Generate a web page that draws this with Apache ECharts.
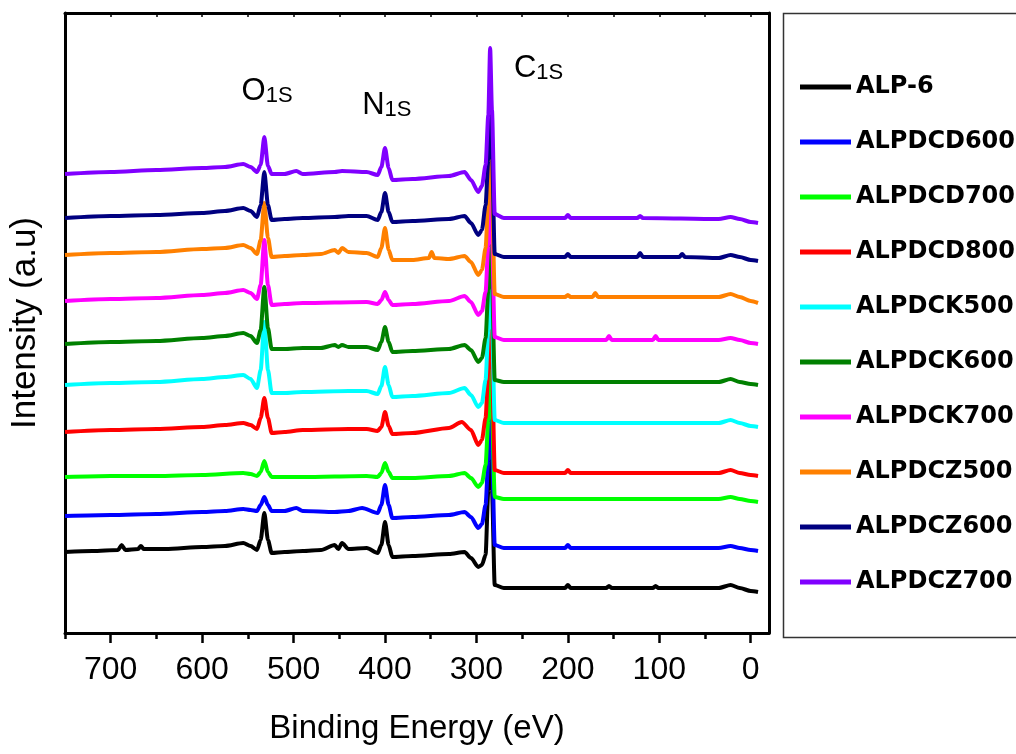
<!DOCTYPE html>
<html>
<head>
<meta charset="utf-8">
<title>XPS survey spectra</title>
<script src="https://cdn.jsdelivr.net/npm/echarts@6/dist/echarts.min.js"></script>
<style>
html, body { margin: 0; padding: 0; background: #fff; }
#main { width: 1016px; height: 754px; }
</style>
</head>
<body>
<div id="main"></div>
<script>
// samples, in legend order
const names = ['ALP-6', 'ALPDCD600', 'ALPDCD700', 'ALPDCD800', 'ALPDCK500',
  'ALPDCK600', 'ALPDCK700', 'ALPDCZ500', 'ALPDCZ600', 'ALPDCZ700']
const colors = ['#000000', '#0000ff', '#00ff00', '#ff0000', '#00ffff',
  '#008000', '#ff00ff', '#ff8000', '#000080', '#8000ff']

// spectra: [binding energy (eV), intensity (a.u., offset traces)]
const alp6 = [[750,81],[720,82],[692,83],[688,88],[684,83],[670,84],[667,87],[664,84],[640,84],[600,86],[575,87],[555,90],[547,87],[540,83],[536,93],[532,120],[528,93],[524,80],[510,81],[490,82],[470,83],[455,88],[451,84],[447,90],[440,84],[420,85],[408,80],[404,88],[400,111],[396,88],[392,76],[370,77],[330,79],[313,81],[306,75],[298,66],[294,68],[290,78],[287,143],[285,203],[283,143],[280,48],[270,45],[203,45],[200,48],[197,45],[158,45],[155,47],[152,45],[107,45],[104,47],[101,45],[35,45],[22,48],[12,45],[0,42],[-8,41]]
const alpdcd600 = [[750,117],[700,118],[650,119],[600,121],[575,122],[555,124],[547,123],[540,122],[536,128],[532,136],[528,128],[524,122],[510,122],[497,125],[490,122],[455,121],[440,122],[425,125],[408,120],[404,128],[400,148],[396,128],[392,115],[370,116],[330,118],[313,121],[306,116],[298,105],[294,109],[290,128],[287,173],[285,233],[283,183],[280,88],[270,85],[203,85],[200,88],[197,85],[35,85],[22,87],[12,85],[0,83],[-8,82]]
const alpdcd700 = [[750,156],[700,157],[650,157],[600,158],[555,160],[547,159],[540,157],[536,161],[532,172],[528,161],[524,156],[490,156],[420,157],[408,156],[404,160],[400,170],[396,161],[392,155],[370,155],[330,157],[313,160],[306,155],[298,146],[294,150],[290,168],[287,213],[285,273],[283,223],[280,136],[270,134],[35,134],[22,136],[12,134],[0,132],[-8,131]]
const alpdcd800 = [[750,201],[700,203],[650,204],[600,206],[575,208],[555,210],[547,208],[540,204],[536,215],[532,235],[528,215],[524,200],[510,201],[490,203],[440,204],[420,204],[408,202],[404,206],[400,221],[396,207],[392,199],[370,200],[330,205],[316,211],[306,203],[298,188],[294,193],[290,215],[287,263],[285,328],[283,273],[280,163],[270,160],[203,160],[200,163],[197,160],[35,160],[22,163],[12,160],[0,158],[-8,157]]
const alpdck500 = [[750,248],[700,250],[650,251],[600,254],[575,256],[555,258],[547,254],[540,245],[536,263],[532,311],[528,263],[524,240],[510,240],[490,241],[440,242],[420,242],[408,239],[404,247],[400,266],[396,248],[392,236],[370,237],[330,240],[313,245],[306,238],[298,226],[294,230],[290,253],[287,303],[285,368],[283,313],[280,213],[270,210],[35,210],[22,213],[12,210],[0,207],[-8,206]]
const alpdck600 = [[750,289],[700,291],[650,292],[600,295],[575,297],[555,300],[547,297],[540,290],[536,303],[532,346],[528,305],[524,284],[510,284],[490,285],[470,285],[455,288],[451,286],[447,288],[440,286],[420,286],[408,283],[404,291],[400,306],[396,291],[392,281],[370,282],[330,284],[313,288],[306,283],[298,271],[294,275],[290,295],[287,343],[285,408],[283,353],[280,253],[270,251],[35,251],[22,254],[12,251],[0,249],[-8,248]]
const alpdck700 = [[750,332],[700,334],[650,335],[600,338],[575,340],[555,343],[547,340],[540,334],[536,348],[532,393],[528,348],[524,328],[510,329],[490,330],[420,331],[408,329],[404,333],[400,341],[396,333],[392,328],[370,329],[330,332],[313,337],[306,331],[298,318],[294,322],[290,341],[287,388],[285,453],[283,398],[280,296],[270,293],[158,293],[155,297],[152,293],[107,293],[104,297],[101,293],[35,293],[22,295],[12,293],[0,290],[-8,289]]
const alpdcz500 = [[750,378],[700,380],[650,381],[600,384],[575,385],[555,388],[547,385],[540,379],[536,393],[532,430],[528,395],[524,376],[510,377],[490,378],[470,379],[455,383],[451,380],[447,385],[440,381],[420,380],[408,376],[404,385],[400,405],[396,383],[392,373],[370,373],[352,375],[349,381],[346,375],[330,374],[313,377],[306,371],[298,358],[294,363],[290,385],[287,433],[285,498],[283,443],[280,339],[270,336],[203,336],[200,338],[197,336],[173,336],[170,340],[167,336],[35,336],[22,339],[12,336],[0,332],[-8,330]]
const alpdcz600 = [[750,415],[700,417],[650,418],[600,420],[575,422],[555,425],[547,422],[540,416],[536,428],[532,461],[528,428],[524,413],[510,414],[490,415],[455,416],[440,417],[420,417],[408,413],[404,421],[400,440],[396,421],[392,411],[370,412],[330,414],[313,417],[306,410],[298,398],[294,403],[290,428],[287,473],[285,538],[283,483],[280,379],[270,376],[203,376],[200,379],[197,376],[124,376],[121,380],[118,376],[78,376],[75,379],[72,376],[35,375],[22,378],[12,376],[0,373],[-8,372]]
const alpdcz700 = [[750,459],[700,461],[650,463],[600,465],[575,466],[555,469],[547,466],[540,461],[536,468],[532,496],[528,467],[524,459],[510,459],[497,462],[490,459],[455,461],[447,462],[420,461],[408,458],[404,466],[400,485],[396,465],[392,453],[370,454],[330,457],[313,461],[306,453],[298,441],[294,447],[290,468],[287,518],[285,585],[283,523],[280,419],[270,415],[203,415],[200,418],[197,415],[124,415],[121,417],[118,415],[35,414],[22,416],[12,414],[0,411],[-8,410]]
const spectra = [alp6, alpdcd600, alpdcd700, alpdcd800, alpdck500,
  alpdck600, alpdck700, alpdcz500, alpdcz600, alpdcz700]

// axis ticks
const majorTicks = [0, 100, 200, 300, 400, 500, 600, 700]
const minorTicks = [50, 150, 250, 350, 450, 550, 650, 750]
const frameTicks = [0, 50, 100, 150, 200, 250, 300, 350, 400, 450, 500, 550, 600, 650, 700, 750]

// peak annotations: element, subscript, anchor [energy, intensity]
const peakLabels = [
  { el: 'O', sub: '1S', at: [529, 542] },
  { el: 'N', sub: '1S', at: [398, 528] },
  { el: 'C', sub: '1S', at: [232, 565] }
]

const FONT = 'Liberation Sans, Arial, sans-serif'
const chart = echarts.init(document.getElementById('main'), null, { renderer: 'canvas' })

const series = names.map((name, i) => ({
  name: name,
  type: 'line',
  data: spectra[i],
  showSymbol: false,
  smooth: 0.25,
  smoothMonotone: 'x',
  color: colors[i],
  lineStyle: { width: 4, color: colors[i] },
  emphasis: { disabled: true }
}))

const frameLine = { show: true, onZero: false, lineStyle: { color: '#000', width: 3 } }

const option = {
  animation: false,
  backgroundColor: '#fff',
  grid: { left: 62, right: 247, top: 13, bottom: 121 },
  legend: {
    orient: 'vertical',
    left: 795,
    top: 70,
    icon: 'rect',
    itemWidth: 51,
    itemHeight: 5,
    itemGap: 31,
    textStyle: { fontFamily: 'DejaVu Sans', fontWeight: 'bold', fontSize: 24, lineHeight: 24, color: '#000' },
    data: names
  },
  xAxis: [
    {
      type: 'value', min: -20, max: 750, inverse: true, position: 'bottom',
      name: 'Binding Energy (eV)', nameLocation: 'middle', nameGap: 79,
      nameTextStyle: { fontFamily: FONT, fontSize: 33, color: '#000' },
      axisLine: frameLine,
      axisTick: { show: true, inside: false, length: 10, lineStyle: { width: 2.5, color: '#000' }, customValues: majorTicks },
      axisLabel: { fontFamily: FONT, fontSize: 32, color: '#000', margin: 21, customValues: majorTicks },
      splitLine: { show: false }
    },
    {
      type: 'value', min: -20, max: 750, inverse: true, position: 'bottom',
      axisLine: { show: false, onZero: false },
      axisTick: { show: true, length: 6, lineStyle: { width: 2.5, color: '#000' }, customValues: minorTicks },
      axisLabel: { show: false },
      splitLine: { show: false }
    },
    {
      type: 'value', min: -20, max: 750, inverse: true, position: 'top',
      axisLine: frameLine,
      axisTick: { show: true, inside: true, length: 4, lineStyle: { width: 1.5, color: '#000' }, customValues: frameTicks },
      axisLabel: { show: false },
      splitLine: { show: false }
    }
  ],
  yAxis: [
    {
      type: 'value', min: 0, max: 620, position: 'left',
      name: 'Intensity (a.u)', nameLocation: 'middle', nameGap: 22,
      nameTextStyle: { fontFamily: FONT, fontSize: 35, color: '#000' },
      axisLine: frameLine,
      axisTick: { show: false },
      axisLabel: { show: false },
      splitLine: { show: false }
    },
    {
      type: 'value', min: 0, max: 620, position: 'right',
      axisLine: frameLine,
      axisTick: { show: false },
      axisLabel: { show: false },
      splitLine: { show: false }
    }
  ],
  series: series
}

chart.setOption(option)

// legend frame and peak labels
const labelGraphics = peakLabels.map(p => {
  const pt = chart.convertToPixel({ xAxisIndex: 0, yAxisIndex: 0 }, p.at)
  return {
    type: 'text',
    x: pt[0],
    y: pt[1],
    style: {
      text: '{a|' + p.el + '}{b|' + p.sub + '}',
      align: 'center',
      verticalAlign: 'middle',
      rich: {
        a: { fontFamily: FONT, fontSize: 31, lineHeight: 31, verticalAlign: 'bottom', fill: '#000' },
        b: { fontFamily: FONT, fontSize: 22, lineHeight: 22, verticalAlign: 'bottom', fill: '#000' }
      }
    }
  }
})

chart.setOption({
  graphic: [
    {
      type: 'rect',
      shape: { x: 783.5, y: 13.5, width: 240, height: 624 },
      style: { fill: 'none', stroke: '#333', lineWidth: 1.5 },
      z: -1
    }
  ].concat(labelGraphics)
})
</script>
</body>
</html>
